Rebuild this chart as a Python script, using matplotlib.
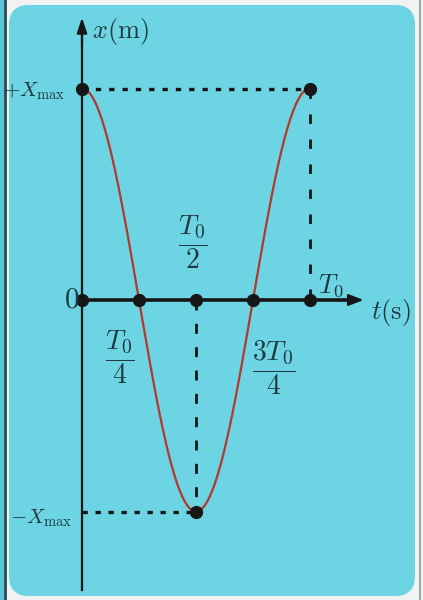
import numpy as np
import matplotlib
matplotlib.use("Agg")
import matplotlib.pyplot as plt
from matplotlib.patches import FancyBboxPatch, Rectangle

plt.rcParams['mathtext.fontset'] = 'cm'

# ---- data (T0 = 1, Xmax = 1) ----
tick_times = [0.0, 0.25, 0.5, 0.75, 1.0]
extreme_times = [0.0, 0.5, 1.0]
extreme_values = [1.0, -1.0, 1.0]
amplitude = 1.0
period = 1.0

BG = '#6cd4e3'
AX = '#161616'
TXT = '#1f3940'
CURVE = '#b2392d'

fig = plt.figure(figsize=(4.23, 6.0), dpi=100)
fig.patch.set_facecolor('#f1f3f3')

# background panel in pixel coordinates
bg = fig.add_axes([0, 0, 1, 1])
bg.set_xlim(0, 423)
bg.set_ylim(600, 0)
bg.axis('off')
bg.add_patch(Rectangle((0, 0), 4, 600, color='#58c6d6', lw=0))
bg.add_patch(Rectangle((4, 0), 3, 600, color='#33545a', lw=0))
bg.add_patch(Rectangle((419, 0), 2, 600, color='#9aa4a6', lw=0))
bg.add_patch(FancyBboxPatch((9, 5), 406, 591,
                            boxstyle='round,pad=0,rounding_size=20',
                            fc=BG, ec='none'))

# main axes: t in units of T0, x in units of Xmax
ax = fig.add_axes([0, 0, 1, 1])
ax.patch.set_alpha(0)
ax.set_xlim(-82 / 228, 341 / 228)
ax.set_ylim(-300 / 211.5, 300 / 211.5)
ax.axis('off')

# axes with arrows
ax.plot([0, 0], [-1.37, 1.30], color=AX, lw=1.6, zorder=3)
ax.annotate('', xy=(0, 1.335), xytext=(0, 1.2),
            arrowprops=dict(arrowstyle='-|>,head_length=0.9,head_width=0.3',
                            color=AX, lw=1.6, shrinkA=0, shrinkB=0), zorder=3)
ax.plot([0, 1.2], [0, 0], color=AX, lw=2.6, zorder=3)
ax.annotate('', xy=(1.235, 0), xytext=(1.1, 0),
            arrowprops=dict(arrowstyle='-|>,head_length=0.9,head_width=0.35',
                            color=AX, lw=1.6, shrinkA=0, shrinkB=0), zorder=3)

# guide lines
ax.plot([0, 1], [1, 1], color=AX, lw=2.4, ls=(0, (1.6, 2.4)),
        dash_capstyle='butt', zorder=2)
ax.plot([0, 0.5], [-1, -1], color=AX, lw=2.4, ls=(0, (1.6, 2.3)),
        dash_capstyle='butt', zorder=2)
ax.plot([1, 1], [1, 0], color=AX, lw=2.0, ls=(0, (3.4, 5.6)),
        dash_capstyle='butt', zorder=2)
ax.plot([0.5, 0.5], [0, -1], color=AX, lw=2.0, ls=(0, (3.6, 4.8)),
        dash_capstyle='butt', zorder=2)

# curve
t = np.linspace(0, period, 400)
ax.plot(t, amplitude * np.cos(2 * np.pi * t / period), color=CURVE, lw=1.6, zorder=4)

# points
ax.plot(tick_times, [0] * len(tick_times), 'o', color=AX, ms=8.5, zorder=5)
ax.plot(extreme_times, extreme_values, 'o', color=AX, ms=8.5, zorder=5)

# labels
tk = dict(color=TXT, va='center', zorder=6)
ax.text(0.045, 1.27, r'$x(\mathrm{m})$', fontsize=19, ha='left', **tk)
ax.text(-0.072, 0.985, r'$+X_{\mathrm{max}}$', fontsize=15, ha='right', **tk)
ax.text(-0.04, -1.03, r'$-X_{\mathrm{max}}$', fontsize=15, ha='right', **tk)
ax.text(-0.045, 0.0, r'$0$', fontsize=21, ha='center', **tk)
ax.text(1.355, -0.06, r'$t(\mathrm{s})$', fontsize=19, ha='center', **tk)
ax.text(1.09, 0.07, r'$T_0$', fontsize=19, ha='center', **tk)
ax.text(0.487, 0.27, r'$\dfrac{T_0}{2}$', fontsize=20, ha='center', **tk)
ax.text(0.165, -0.27, r'$\dfrac{T_0}{4}$', fontsize=20, ha='center', **tk)
ax.text(0.84, -0.32, r'$\dfrac{3T_0}{4}$', fontsize=20, ha='center', **tk)

fig.savefig('out.png', dpi=100, facecolor=fig.get_facecolor())
